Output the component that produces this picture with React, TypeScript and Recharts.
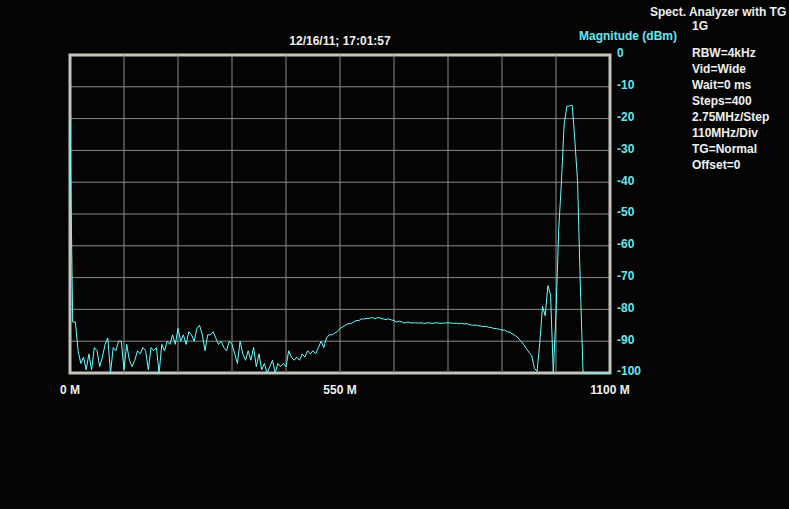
import React from 'react';
import { LineChart, Line, XAxis, YAxis, CartesianGrid, ReferenceLine, ReferenceArea } from 'recharts';

// every 2nd sweep step (2 x 2.75 MHz)
const STEP_MHZ = 5.5;

const sweepDbm = [
  -21, -84, -84, -93, -97, -95, -99, -94, -99, -92,
  -93, -98, -95, -91, -89, -100, -92, -93, -90, -90,
  -99, -91, -96, -98, -96, -93, -94, -92, -93, -99,
  -92, -93, -92, -100, -91, -93, -90, -91, -88, -91,
  -86, -90, -88, -91, -87, -88, -90, -86, -85, -88,
  -93, -88, -88, -87, -89, -91, -90, -92, -93, -90,
  -91, -94, -97, -90, -94, -96, -93, -96, -92, -98,
  -94, -99, -97, -100, -98, -96, -100, -97, -98, -97,
  -98, -93, -95, -96, -95, -96, -94, -95, -93, -94,
  -93, -94, -92, -90, -92, -89, -88, -88, -87.5, -87,
  -86, -85.5, -85, -84.5, -84.5, -84, -83.5, -83.5, -83, -83,
  -82.8, -82.8, -82.5, -83, -82.5, -82.8, -83, -83.2, -83, -83.3,
  -83.5, -84, -83.7, -84, -84.3, -84, -84.2, -84.3, -84.2, -84.3,
  -84.2, -84.4, -84.3, -84.2, -84.4, -84.3, -84.2, -84.4, -84.3, -84.3,
  -84.2, -84.3, -84.4, -84.3, -84.5, -84.4, -84.6, -84.5, -84.8, -85,
  -84.9, -85.1, -85.2, -85.4, -85.3, -85.6, -85.7, -86, -86, -86.3,
  -86.5, -86.5, -87, -87.2, -87.8, -88.3, -89, -90, -91, -92.3,
  -93.5, -94.5, -98.5, -99.5, -90.5, -79, -82, -72.5, -75.5, -100,
  -81, -55, -40, -22, -16.2, -16, -15.8, -27, -40, -72,
  -99.5, -100, -100, -100, -100, -100, -100, -100, -100, -100,
  -100,
];

const sweepData = sweepDbm.map((dbm, i) => ({ freq: i * STEP_MHZ, dbm }));

const xTicks = [0, 550, 1100];
const yTicks = [0, -10, -20, -30, -40, -50, -60, -70, -80, -90, -100];
const gridFreqs = [110, 220, 330, 440, 550, 660, 770, 880, 990];

const titleText = '12/16/11; 17:01:57';
const axisTitle = 'Magnitude (dBm)';
const headerText = 'Spect. Analyzer with TG';
const infoLines = ['RBW=4kHz', 'Vid=Wide', 'Wait=0 ms', 'Steps=400', '2.75MHz/Step', '110MHz/Div', 'TG=Normal', 'Offset=0'];

const FONT = '"Liberation Sans", Arial, sans-serif';
const CYAN = '#66e8f0';
const TRACE = '#66ffff';
const WHITE = '#f0f0f0';
const GRID = '#8a8a84';
const FRAME = '#c4c4bc';

const textStyle: React.CSSProperties = {
  position: 'absolute',
  fontFamily: FONT,
  fontWeight: 'bold',
  fontSize: 12,
  lineHeight: '16px',
  whiteSpace: 'nowrap',
};

function XTick({ x, y, payload }: any) {
  return (
    <text x={x} y={y} dy="0.71em" textAnchor="middle" fill={WHITE} fontFamily={FONT} fontWeight="bold" fontSize={12}>
      {`${payload.value} M`}
    </text>
  );
}

function YTick({ x, y, payload }: any) {
  return (
    <text x={x} y={y} dy={2.3} textAnchor="start" fill={CYAN} fontFamily={FONT} fontWeight="bold" fontSize={12}>
      {payload.value}
    </text>
  );
}

export default function App() {
  return (
    <div style={{ position: 'fixed', left: 0, top: 0, width: 789, height: 509, background: '#040404', overflow: 'hidden' }}>
      <LineChart width={789} height={509} data={sweepData} margin={{ top: 55, right: 0, bottom: 0, left: 70 }}>
        <CartesianGrid stroke={GRID} vertical={false} horizontalValues={yTicks} />
        {gridFreqs.map((f) => (
          <ReferenceLine key={f} x={f} stroke={GRID} />
        ))}
        <ReferenceArea x1={0} x2={1100} y1={-100} y2={0} fill="none" stroke={FRAME} strokeWidth={3} ifOverflow="visible" />
        <XAxis
          dataKey="freq"
          type="number"
          domain={[0, 1100]}
          ticks={xTicks}
          height={136}
          axisLine={false}
          tickLine={false}
          tickSize={6}
          tickMargin={6}
          tick={<XTick />}
          interval={0}
        />
        <YAxis
          orientation="right"
          type="number"
          domain={[-100, 0]}
          ticks={yTicks}
          width={179}
          axisLine={false}
          tickLine={false}
          tickSize={5}
          tickMargin={2}
          tick={<YTick />}
          interval={0}
        />
        <Line type="linear" dataKey="dbm" stroke={TRACE} strokeWidth={1} dot={false} isAnimationActive={false} />
      </LineChart>
      <div style={{ ...textStyle, left: 240, width: 200, top: 33, textAlign: 'center', color: WHITE }}>{titleText}</div>
      <div style={{ ...textStyle, left: 579, top: 28, color: CYAN }}>{axisTitle}</div>
      <div style={{ ...textStyle, left: 650, top: 4, color: WHITE }}>{headerText}</div>
      <div style={{ ...textStyle, left: 692, top: 18, color: WHITE }}>1G</div>
      <div style={{ position: 'absolute', left: 692, top: 45 }}>
        {infoLines.map((line) => (
          <div key={line} style={{ ...textStyle, position: 'static', color: WHITE }}>
            {line}
          </div>
        ))}
      </div>
    </div>
  );
}
